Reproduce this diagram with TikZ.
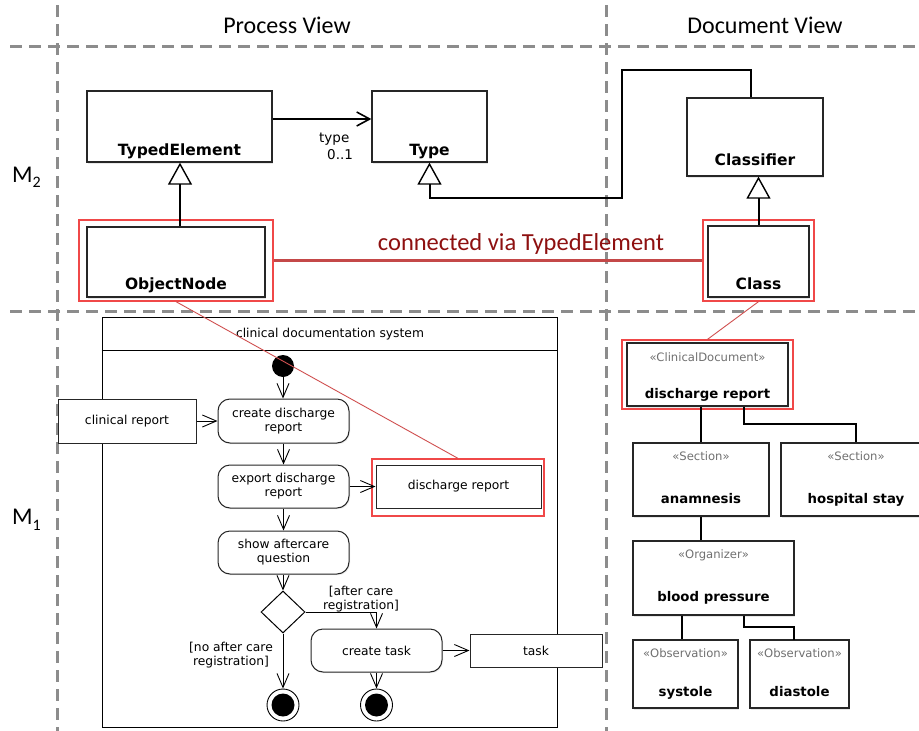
\documentclass[tikz,border=0pt]{standalone}
\usepackage{fontspec}
\setmainfont{DejaVu Sans}
\newfontfamily\headfamily{Carlito}
\usetikzlibrary{arrows.meta,shapes.geometric,shadows}

\definecolor{gridgray}{HTML}{8C8C8C}
\definecolor{hlred}{HTML}{F04848}
\definecolor{linkred}{HTML}{C44848}
\definecolor{thinred}{HTML}{D05050}
\definecolor{textred}{HTML}{8E1010}
\definecolor{stereogray}{HTML}{707070}

\newcommand\acttxt{\fontsize{12.3}{14}\selectfont}
\newcommand\roletxt{\fontsize{13.5}{16}\selectfont}
\newcommand\stereotxt{\fontsize{11.6}{13}\selectfont}
\newcommand\bignametxt{\fontsize{15.5}{18}\selectfont\bfseries}
\newcommand\smallnametxt{\fontsize{13.3}{16}\selectfont\bfseries}
\newcommand\headtxt{\headfamily\fontsize{24}{28}\selectfont}

\begin{document}
\begin{tikzpicture}[x=1pt,y=-1pt,
  gridline/.style={draw=gridgray,line width=3pt,dash pattern=on 12pt off 7pt},
  head/.style={font=\headtxt,inner sep=0pt},
  cls/.style={draw=black!85,line width=1.3pt,fill=white,rectangle,inner sep=0pt,
    drop shadow={opacity=0.18,shadow xshift=1.2pt,shadow yshift=-1.5pt}},
  hlframe/.style={draw=hlred,line width=1.3pt,rectangle,inner sep=0pt},
  bigname/.style={font=\bignametxt,inner sep=0pt,anchor=base},
  smallname/.style={font=\smallnametxt,inner sep=0pt,anchor=base},
  stereo/.style={font=\stereotxt,text=stereogray,inner sep=0pt,anchor=base},
  assoc/.style={draw=black,line width=2pt},
  gen/.style={assoc,-{Triangle[length=22pt,width=24pt,fill=white,line width=1.4pt]}},
  navig/.style={assoc,-{Straight Barb[length=13pt,width=14pt,line width=1.6pt]}},
  act/.style={draw=black!85,line width=1pt,fill=white,rectangle,rounded corners=12pt,
    font=\acttxt,align=center,inner sep=0pt,
    drop shadow={opacity=0.15,shadow xshift=1pt,shadow yshift=-1.2pt}},
  obj/.style={draw=black!85,line width=1pt,fill=white,rectangle,
    font=\acttxt,align=center,inner sep=0pt,
    drop shadow={opacity=0.15,shadow xshift=1pt,shadow yshift=-1.2pt}},
  flow/.style={draw=black,line width=0.9pt,-{Straight Barb[length=14pt,width=12pt,line width=0.9pt]}},
  lbl/.style={font=\acttxt,align=center,inner sep=0pt},
  initial/.style={circle,fill=black,minimum size=22pt,inner sep=0pt},
  final/.style={circle,draw=black,line width=0.9pt,fill=white,minimum size=32pt,inner sep=0pt,
    path picture={\fill[black] (path picture bounding box.center) circle (11.5pt);}},
  redlink/.style={draw=linkred,line width=2.4pt},
  redthin/.style={draw=thinred,line width=0.9pt}
]
\useasboundingbox[fill=white] (0,0) rectangle (919,731);
\clip (0,0) rectangle (919,731);

% view / level separators
\draw[gridline] (57,5) -- (57,731);
\draw[gridline] (606,5) -- (606,731);
\draw[gridline] (10,46) -- (919,46);
\draw[gridline] (10,311) -- (919,311);

% headings
\node[head,anchor=base] (pv) at (287,33) {Process View};
\node[head,anchor=base] (dv) at (765,33) {Document View};
\node[head,anchor=base west] (m2) at (12,182) {M\raisebox{-5.5pt}{\fontsize{16}{16}\selectfont 2}};
\node[head,anchor=base west] (m1) at (12,524) {M\raisebox{-6pt}{\fontsize{16}{16}\selectfont 1}};

% ---------- M2 metamodel ----------
\node[cls,minimum width=185pt,minimum height=71pt] (te) at (179.5,126.5) {};
\node[bigname] (te-n) at (179.5,155) {TypedElement};
\node[cls,minimum width=115pt,minimum height=71pt] (ty) at (429.5,126.5) {};
\node[bigname] (ty-n) at (429.5,155) {Type};
\node[cls,minimum width=136pt,minimum height=78pt] (cf) at (755,137) {};
\node[bigname] (cf-n) at (755,165) {Classifier};
\node[cls,minimum width=178pt,minimum height=70pt] (on) at (176,262) {};
\node[bigname] (on-n) at (176,289) {ObjectNode};
\node[cls,minimum width=101pt,minimum height=71pt] (cl) at (758.5,261.5) {};
\node[bigname] (cl-n) at (758.5,289) {Class};

\node[hlframe,minimum width=194pt,minimum height=81pt] (onr) at (176,260.5) {};
\node[hlframe,minimum width=111pt,minimum height=81pt] (clr) at (758.5,260.5) {};

% association TypedElement -> Type
\draw[navig] (te.east |- 0,119) -- (ty.west |- 0,119);
\node[font=\roletxt,inner sep=0pt,anchor=base west] (ty-role) at (319,142) {type};
\node[font=\roletxt,inner sep=0pt,anchor=base west] (ty-mult) at (327,159) {0..1};

% generalizations
\draw[gen] (on.north -| 180,0) -- (te.south -| 180,0);
\coordinate (cf-up) at (751,70);
\coordinate (ty-bend) at (622,198);
\draw[gen] (cf.north -| cf-up) |- (cf-up) -| (ty-bend) -| (ty.south);
\draw[gen] (cl.north) -- (cf.south -| cl.north);

% TypedElement link between the views
\draw[redlink] (onr.east) -- (clr.west);
\node[font=\headfamily\fontsize{24.5}{28}\selectfont,text=textred,anchor=base,inner sep=0pt]
  (link-l) at (521,250) {connected via TypedElement};

% ---------- M1 activity ----------
\node[draw=black,line width=1pt,fill=white,minimum width=455pt,minimum height=410pt,inner sep=0pt]
  (frame) at (329.5,522) {};
\draw[black,line width=0.9pt] (frame.west |- 0,350) -- (frame.east |- 0,350);
\node[lbl,anchor=base] (frame-t) at (330,337) {clinical documentation system};

\node[initial] (init) at (283,366) {};
\node[act,minimum width=131pt,minimum height=44pt] (cdr1) at (283.5,421) {create discharge\\report};
\node[obj,minimum width=138pt,minimum height=44pt] (crep) at (127,421) {clinical report};
\node[act,minimum width=131pt,minimum height=43pt] (exp) at (283.5,486.5) {export discharge\\report};
\node[obj,minimum width=165pt,minimum height=43pt] (dobj) at (458.5,486.5) {discharge report};
\node[hlframe,minimum width=172pt,minimum height=57pt] (dobjr) at (458,487.5) {};
\node[act,minimum width=131pt,minimum height=43pt] (show) at (283.5,552.5) {show aftercare\\question};
\node[draw=black,line width=1pt,fill=white,diamond,minimum width=44pt,minimum height=42pt,inner sep=0pt]
  (dec) at (283,612) {};
\node[act,minimum width=131pt,minimum height=43pt] (ctask) at (376.5,650.5) {create task};
\node[obj,minimum width=132pt,minimum height=33pt] (task) at (536,650.5) {task};
\node[final] (fin1) at (283,705) {};
\node[final] (fin2) at (376.5,705) {};

\draw[flow] (init) -- (init |- cdr1.north);
\draw[flow] (crep) -- (cdr1);
\draw[flow] (cdr1.south -| exp.north) -- (exp.north);
\draw[flow] (exp) -- (dobj);
\draw[flow] (exp.south) -- (show.north);
\draw[flow] (show.south -| dec.north) -- (dec.north);
\draw[flow] (dec.east) -| (ctask.north);
\draw[flow] (dec.south) -- (fin1.north);
\draw[flow] (ctask.south) -- (fin2.north);
\draw[flow] (ctask) -- (task);

\node[lbl] (g-yes) at (361,599) {[after care\\registration]};
\node[lbl] (g-no) at (231,655) {[no after care\\registration]};

% ---------- M1 document ----------
\node[cls,minimum width=161pt,minimum height=63pt] (cdoc) at (707.5,374.5) {};
\node[stereo] (cdoc-s) at (707.5,361) {«ClinicalDocument»};
\node[smallname] (cdoc-n) at (707.5,398) {discharge report};
\node[hlframe,minimum width=171pt,minimum height=69pt] (cdocr) at (707.5,374.5) {};

\node[cls,minimum width=136pt,minimum height=73pt] (anam) at (701,479.5) {};
\node[stereo] (anam-s) at (701,460) {«Section»};
\node[smallname] (anam-n) at (701,503) {anamnesis};

\node[cls,minimum width=150pt,minimum height=73pt] (hosp) at (856,479.5) {};
\node[stereo] (hosp-s) at (856,460) {«Section»};
\node[smallname] (hosp-n) at (856,503) {hospital stay};

\node[cls,minimum width=161pt,minimum height=74pt] (bp) at (713.5,578) {};
\node[stereo] (bp-s) at (713.5,558) {«Organizer»};
\node[smallname] (bp-n) at (713.5,601) {blood pressure};

\node[cls,minimum width=105pt,minimum height=68pt] (sys) at (685.5,674) {};
\node[stereo] (sys-s) at (685.5,657) {«Observation»};
\node[smallname] (sys-n) at (685.5,696) {systole};

\node[cls,minimum width=99pt,minimum height=68pt] (dia) at (799.5,674) {};
\node[stereo] (dia-s) at (799.5,657) {«Observation»};
\node[smallname] (dia-n) at (799.5,696) {diastole};

\draw[assoc] (cdoc.south -| anam.north) -- (anam.north);
\coordinate (hosp-bend) at (744,424);
\draw[assoc] (cdoc.south -| hosp-bend) |- (hosp-bend) -| (hosp.north);
\draw[assoc] (anam.south) -- (anam.south |- bp.north);
\draw[assoc] (bp.south -| 682,0) -- (sys.north -| 682,0);
\coordinate (dia-bend) at (744,627);
\coordinate (dia-top) at (794,640);
\draw[assoc] (bp.south -| dia-bend) -- (dia-bend) -| (dia-top);

% trace links from the metamodel to the model elements
\draw[redthin] (onr.south) -- (dobjr.north);
\draw[redthin] (clr.south) -- (cdocr.north);
\end{tikzpicture}
\end{document}
